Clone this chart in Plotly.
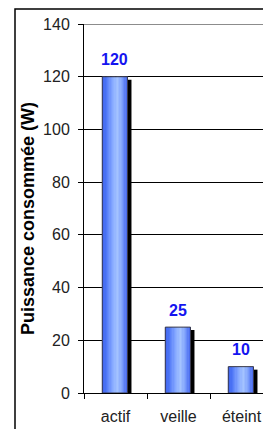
import plotly.graph_objects as go

categories = ["actif", "veille", "éteint"]
values = [120, 25, 10]
y_ticks = [0, 20, 40, 60, 80, 100, 120, 140]

# page has an 8px body margin; figure is sized so it fills the 271x429 window
OFF = 8
W, H = 271 - OFF, 429 - OFF
L, T, B = 84 - OFF, 24 - OFF, 36
plot_w = W - L
plot_h = H - T - B
cat_px = 63.0
y_max = 140
px_per_unit = plot_h / y_max
FONT = "Liberation Sans, Arial"

fig = go.Figure()

bar_w = 0.4
bar_off = -0.5 * bar_w - 0.01

# shadow (black, shifted right and down)
sh_dx = 4 / cat_px
sh_dy = 3 / px_per_unit
fig.add_trace(go.Bar(
    x=categories, y=[v - sh_dy for v in values],
    width=bar_w, offset=bar_off + sh_dx,
    marker=dict(color="#000000", line=dict(width=0)),
    hoverinfo="skip", showlegend=False))

# gradient slices
stops = [(0.0, (60, 95, 235)), (0.15, (75, 115, 245)), (0.4, (130, 165, 255)),
         (0.62, (165, 196, 255)), (0.8, (128, 162, 252)), (1.0, (70, 105, 240))]

def col(t):
    for i in range(len(stops) - 1):
        a, ca = stops[i]
        b, cb = stops[i + 1]
        if a <= t <= b:
            f = (t - a) / (b - a)
            c = [round(ca[k] + (cb[k] - ca[k]) * f) for k in range(3)]
            return "rgb(%d,%d,%d)" % tuple(c)
    return "rgb(70,105,240)"

n = 20
sw = bar_w / n
for i in range(n):
    t = (i + 0.5) / n
    fig.add_trace(go.Bar(
        x=categories, y=values,
        width=sw * 1.15, offset=bar_off + i * sw,
        marker=dict(color=col(t), line=dict(width=0)),
        hoverinfo="skip", showlegend=False))

# outline
fig.add_trace(go.Bar(
    x=categories, y=values, width=bar_w, offset=bar_off,
    marker=dict(color="rgba(0,0,0,0)", line=dict(color="#3a3a4a", width=1)),
    hoverinfo="skip", showlegend=False))

for c, v in zip(categories, values):
    fig.add_annotation(x=c, y=v, text="<b>%d</b>" % v, showarrow=False,
                       yshift=17, xshift=-1,
                       font=dict(family=FONT, size=16, color="#1414f0"))

# axis title
fig.add_annotation(xref="paper", yref="paper",
                   x=(28 - 84) / plot_w, y=1 - (219 - 24) / plot_h,
                   xanchor="center", yanchor="middle",
                   text="<b>Puissance consommée (W)</b>", textangle=-90,
                   showarrow=False,
                   font=dict(family=FONT, size=18, color="#000000"))

# outer border
fig.add_shape(type="rect", xref="paper", yref="paper",
              x0=(15 - 84) / plot_w, x1=1.2, y0=-0.3, y1=1 + (24 - 9) / plot_h,
              line=dict(color="#000000", width=1.5), layer="above")
# top grey line
fig.add_shape(type="line", xref="paper", yref="y",
              x0=0, x1=1, y0=y_max, y1=y_max,
              line=dict(color="#8c8c8c", width=2), layer="above")

fig.update_layout(
    width=W, height=H,
    margin=dict(l=L, r=0, t=T, b=B),
    paper_bgcolor="white", plot_bgcolor="white",
    barmode="overlay",
    font=dict(family=FONT, size=16, color="#222222"),
    xaxis=dict(range=[-0.5, -0.5 + plot_w / cat_px], showline=True, linecolor="#000000",
               linewidth=1, ticks="outside", ticklen=5, tickcolor="#000000",
               tickson="boundaries", showgrid=False, fixedrange=True,
               ticklabelstandoff=9,
               tickfont=dict(size=16, color="#222222")),
    yaxis=dict(range=[0, y_max], tickvals=y_ticks, showline=True, linecolor="#000000",
               linewidth=1, ticks="outside", ticklen=5, tickcolor="#000000",
               showgrid=True, gridcolor="#000000", gridwidth=1, zeroline=False,
               ticklabelstandoff=5, tickfont=dict(size=16, color="#222222")),
)

fig.write_html("out.html")
